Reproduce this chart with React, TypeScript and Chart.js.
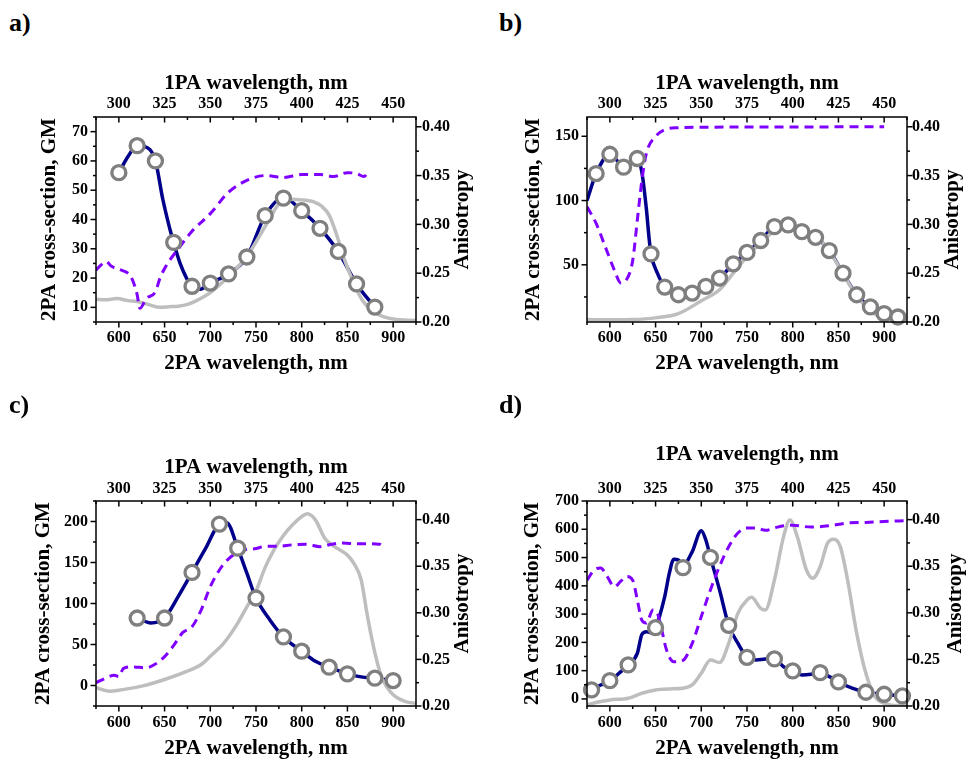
import React, { useEffect, useRef } from 'react';
import { Chart, registerables } from 'chart.js';

Chart.register(...registerables);

type Pt = [number, number];

// ---------- Data (x = 2PA wavelength, nm) ----------
// Panel a
const aCircles: Pt[] = [[600, 56], [620, 65.2], [640, 60], [660, 32.2], [680, 17.2], [700, 18.3], [720, 21.4], [740, 27.2], [760, 41.3], [780, 47.3], [800, 43], [820, 37], [840, 29.1], [860, 18], [880, 10.1]];
const aNavy: Pt[] = [[600, 56], [610, 61.5], [620, 65.3], [628, 65], [640, 60], [648, 47], [656, 36.5], [660, 32], [667, 25], [674, 20], [680, 17.2], [689, 16.2], [700, 18.3], [720, 21.4], [740, 27.2], [760, 41.3], [780, 47.5], [800, 43], [820, 37], [840, 29], [860, 18], [880, 10]];
const aAbs: Pt[] = [[575, 12.8], [585, 12.6], [598, 13], [610, 12.3], [620, 12], [632, 11], [645, 10], [655, 10.2], [665, 10.4], [675, 11], [685, 12.3], [700, 15], [720, 20.6], [740, 27.4], [760, 37.6], [775, 45.3], [785, 46.9], [800, 46.7], [815, 45.8], [822, 44.5], [830, 41.5], [838, 35], [846, 27], [856, 19], [866, 12.6], [880, 8.2], [900, 6], [925, 5.5]];
const aAniso: Pt[] = [[575, 0.253], [580, 0.258], [586, 0.262], [592, 0.257], [603, 0.253], [612, 0.248], [617, 0.238], [620, 0.228], [623, 0.214], [630, 0.224], [640, 0.231], [645, 0.245], [652, 0.258], [665, 0.275], [680, 0.293], [700, 0.311], [720, 0.333], [740, 0.345], [760, 0.35], [780, 0.348], [800, 0.351], [820, 0.351], [835, 0.349], [850, 0.353], [860, 0.352], [868, 0.349], [873, 0.354]];

// Panel b
const bCircles: Pt[] = [[585, 121], [600, 136], [615, 126], [630, 132.7], [645, 58.5], [660, 32.7], [675, 26.7], [690, 28], [705, 33.2], [720, 39.7], [735, 50.8], [750, 59.6], [765, 68.9], [780, 79.7], [795, 81], [810, 75.8], [825, 71.4], [840, 61.1], [855, 43.5], [870, 26.7], [885, 17.2], [900, 12], [915, 9.4]];
const bNavy: Pt[] = [[575, 100], [585, 121], [600, 136], [608, 131], [615, 126], [623, 129], [630, 133], [635, 122], [640, 93], [643, 70], [645, 58.5], [652, 43.5], [660, 32.7], [675, 26.7], [690, 28], [705, 33.2], [720, 39.7], [735, 50.8], [750, 59.6], [765, 68.9], [780, 79.7], [795, 81], [810, 75.8], [825, 71.4], [840, 61.1], [855, 43.5], [870, 26.7], [885, 17.2], [900, 12], [915, 9.4]];
const bAbs: Pt[] = [[575, 7.4], [600, 7.2], [625, 7.4], [650, 8.7], [675, 12], [700, 22], [720, 30.6], [735, 43.5], [750, 56.5], [765, 66.8], [780, 77], [790, 81.8], [800, 81], [815, 76.6], [830, 69.4], [840, 60.3], [855, 43.5], [870, 25.5], [885, 14.6], [900, 7.9], [915, 6.9], [925, 6.8]];
const bAniso: Pt[] = [[575, 0.318], [585, 0.301], [595, 0.277], [605, 0.253], [612, 0.24], [618, 0.243], [625, 0.263], [630, 0.304], [635, 0.345], [640, 0.373], [650, 0.39], [660, 0.397], [675, 0.399], [700, 0.3995], [750, 0.3997], [800, 0.3998], [850, 0.3999], [900, 0.4]];

// Panel c
const cCircles: Pt[] = [[620, 82.3], [650, 82.3], [680, 137.9], [710, 196.8], [730, 167.5], [750, 106.7], [780, 59.2], [800, 41.8], [830, 22.3], [850, 14.2], [880, 8.9], [900, 6]];
const cNavy: Pt[] = [[620, 82.3], [635, 76.3], [650, 82.3], [665, 108.7], [680, 137.9], [695, 167.5], [710, 196.8], [718, 198.5], [730, 167.5], [740, 137], [750, 106.7], [765, 80.3], [780, 59.2], [800, 41.8], [815, 29.6], [830, 22.3], [850, 14.2], [865, 10.5], [880, 8.9], [900, 6]];
const cAbs: Pt[] = [[575, -2.8], [590, -6.9], [600, -5.7], [625, -0.8], [650, 7.3], [675, 17.4], [690, 25.6], [700, 35.7], [715, 51.9], [730, 76], [740, 96], [750, 115], [760, 144], [770, 166], [780, 183], [790, 196], [800, 206], [806, 209.5], [815, 202], [825, 180], [835, 170], [850, 159], [857, 149], [865, 129], [872, 84], [880, 40], [887, 11.4], [898, -8.9], [912, -19], [925, -21.9]];
const cAniso: Pt[] = [[575, 0.225], [585, 0.2297], [595, 0.233], [600, 0.2315], [605, 0.2404], [615, 0.242], [630, 0.241], [640, 0.245], [650, 0.253], [660, 0.265], [670, 0.279], [680, 0.285], [690, 0.303], [700, 0.328], [710, 0.346], [720, 0.358], [735, 0.367], [750, 0.369], [760, 0.3714], [775, 0.3714], [790, 0.373], [805, 0.3736], [820, 0.371], [830, 0.373], [845, 0.375], [860, 0.374], [875, 0.374], [885, 0.3736], [890, 0.37]];

// Panel d
const dCircles: Pt[] = [[580, 31.8], [600, 64.8], [620, 120.2], [650, 252], [680, 464.3], [710, 500.8], [730, 260.4], [750, 147.3], [780, 141.4], [800, 99], [830, 93], [850, 60], [880, 23.6], [900, 16.5], [920, 10.6]];
const dNavy: Pt[] = [[580, 31.8], [590, 49.5], [600, 64.8], [610, 90.7], [620, 120.2], [630, 161], [635, 228], [640, 238], [645, 234], [650, 252], [660, 362], [665, 444], [670, 494], [675, 491], [680, 472], [690, 520], [700, 595], [705, 562], [710, 500.8], [720, 385], [730, 260.4], [740, 197], [750, 147.3], [760, 138], [770, 141], [780, 141.4], [790, 114], [800, 99], [810, 85], [820, 87], [830, 93], [840, 79], [850, 60], [865, 38], [880, 23.6], [900, 16.5], [920, 10.6]];
const dAbs: Pt[] = [[575, -21], [590, -9.3], [600, -3.5], [620, 2.4], [635, 20], [650, 31.8], [665, 35.3], [680, 37.7], [690, 49.5], [700, 90.7], [710, 137.9], [720, 128.5], [730, 196.8], [740, 302.8], [750, 350], [755, 359.4], [765, 320.5], [770, 314.6], [780, 420.7], [790, 574], [797, 632.8], [805, 574], [815, 456], [822, 426.6], [830, 467.8], [838, 550], [845, 564.5], [852, 538.6], [860, 420.7], [870, 232], [880, 90.7], [890, 8.2], [900, -15.3], [915, -23.6], [925, -24]];
const dAniso: Pt[] = [[575, 0.335], [583, 0.346], [590, 0.348], [597, 0.339], [605, 0.328], [612, 0.334], [618, 0.339], [625, 0.335], [630, 0.314], [635, 0.292], [640, 0.289], [647, 0.303], [652, 0.2995], [656, 0.285], [662, 0.26], [670, 0.2474], [680, 0.249], [690, 0.267], [700, 0.296], [710, 0.3246], [720, 0.35], [730, 0.371], [740, 0.3856], [750, 0.391], [760, 0.391], [770, 0.3885], [780, 0.391], [790, 0.3935], [800, 0.394], [820, 0.392], [840, 0.3935], [860, 0.3964], [880, 0.397], [900, 0.398], [925, 0.399]];

// Axis ranges / ticks
const X_RANGE = [575, 925];
const X_TOP_RANGE = [287.5, 462.5];
const aGM = { min: 5, max: 75, minor: 5, major: 10 };
const bGM = { min: 5.5, max: 165, minor: 25, major: 50 };
const cGM = { min: -25, max: 225, minor: 25, major: 50 };
const dGM = { min: -25, max: 700, minor: 50, major: 100 };
const abAniso = { min: 0.2, max: 0.41 };
const cdAniso = { min: 0.2, max: 0.42 };

const LABEL_X_BOTTOM = '2PA wavelength, nm';
const LABEL_X_TOP = '1PA wavelength, nm';
const LABEL_Y_LEFT = '2PA cross-section, GM';
const LABEL_Y_RIGHT = 'Anisotropy';

// ---------- Styling ----------
const FONT = "'Liberation Serif', 'Times New Roman', Times, serif";
const NAVY = '#00008B';
const GRAY_ABS = '#BEBEBE';
const CIRCLE = '#7F7F7F';
const PURPLE = '#8000FF';

const isMult = (v: number, s: number) => Math.abs(v / s - Math.round(v / s)) < 1e-6;

const tickPlugin = {
  id: 'frameTicks',
  afterDraw(chart: any, _args: any, opts: any) {
    const { ctx, chartArea: a } = chart;
    ctx.save();
    ctx.strokeStyle = '#000';
    ctx.lineWidth = 1.5;
    ctx.strokeRect(a.left, a.top, a.right - a.left, a.bottom - a.top);
    const draw = (id: string, side: string) => {
      const s = chart.scales[id];
      s.ticks.forEach((t: any) => {
        const p = s.getPixelForValue(t.value);
        const len = t.label !== '' ? 5.5 : 3;
        ctx.beginPath();
        if (side === 'bottom') { ctx.moveTo(p, a.bottom); ctx.lineTo(p, a.bottom + len); }
        else if (side === 'top') { ctx.moveTo(p, a.top); ctx.lineTo(p, a.top + len); }
        else if (side === 'left') { ctx.moveTo(a.left, p); ctx.lineTo(a.left - len, p); }
        else { ctx.moveTo(a.right, p); ctx.lineTo(a.right + len, p); }
        ctx.stroke();
      });
    };
    draw('x', 'bottom');
    draw('x2', 'top');
    draw('y', 'left');
    draw('y2', 'right');
    ctx.fillStyle = '#000';
    ctx.font = `bold 21px ${FONT}`;
    ctx.textAlign = 'center';
    ctx.textBaseline = 'middle';
    ctx.translate(opts.rightTitleX, (a.top + a.bottom) / 2);
    ctx.rotate(-Math.PI / 2);
    ctx.fillText(LABEL_Y_RIGHT, 0, 0);
    ctx.restore();
  },
};

interface PanelCfg {
  label: string;
  left: number; top: number; width: number; height: number;
  leftW: number; rightW: number; topH: number; bottomH: number;
  gm: { min: number; max: number; minor: number; major: number };
  an: { min: number; max: number };
  circles: Pt[]; navy: Pt[]; abs: Pt[]; aniso: Pt[];
  leftTitlePad: number; topTitlePad: number; bottomTitlePad: number; rightTitleX: number;
  leftLabelPad: number; rightLabelPad: number; topLabelPad: number; bottomLabelPad: number;
  labelLeft: number; labelTop: number;
}

const panels: PanelCfg[] = [
  { label: 'a)', left: 0, top: 40, width: 484, height: 340, leftW: 96, rightW: 68, topH: 77, bottomH: 58, gm: aGM, an: abAniso, circles: aCircles, navy: aNavy, abs: aAbs, aniso: aAniso, leftTitlePad: 39.5, topTitlePad: 32.8, bottomTitlePad: 5.5, rightTitleX: 462.5, leftLabelPad: 8, rightLabelPad: 6, topLabelPad: 3.5, bottomLabelPad: 6, labelLeft: 9, labelTop: 10 },
  { label: 'b)', left: 484, top: 40, width: 484, height: 340, leftW: 103, rightW: 61, topH: 77, bottomH: 58, gm: bGM, an: abAniso, circles: bCircles, navy: bNavy, abs: bAbs, aniso: bAniso, leftTitlePad: 39, topTitlePad: 32.8, bottomTitlePad: 5.5, rightTitleX: 469, leftLabelPad: 8, rightLabelPad: 5, topLabelPad: 3.5, bottomLabelPad: 6, labelLeft: 499, labelTop: 10 },
  { label: 'c)', left: 0, top: 415, width: 484, height: 345, leftW: 96, rightW: 68, topH: 86, bottomH: 54, gm: cGM, an: cdAniso, circles: cCircles, navy: cNavy, abs: cAbs, aniso: cAniso, leftTitlePad: 32.8, topTitlePad: 42.3, bottomTitlePad: 1.2, rightTitleX: 463, leftLabelPad: 8, rightLabelPad: 6, topLabelPad: 3, bottomLabelPad: 7, labelLeft: 9, labelTop: 392 },
  { label: 'd)', left: 484, top: 415, width: 484, height: 345, leftW: 103, rightW: 61, topH: 86, bottomH: 54, gm: dGM, an: cdAniso, circles: dCircles, navy: dNavy, abs: dAbs, aniso: dAniso, leftTitlePad: 37.8, topTitlePad: 29, bottomTitlePad: 1.2, rightTitleX: 472, leftLabelPad: 8, rightLabelPad: 5, topLabelPad: 3, bottomLabelPad: 7, labelLeft: 499, labelTop: 392 },
];

const toXY = (p: Pt[]) => p.map(([x, y]) => ({ x, y }));

const tickFont = { family: FONT, size: 16, weight: 'bold' as const };
const titleFont = { family: FONT, size: 21, weight: 'bold' as const, lineHeight: 1 };

function Panel({ cfg }: { cfg: PanelCfg }) {
  const ref = useRef<HTMLCanvasElement | null>(null);
  useEffect(() => {
    if (!ref.current) return;
    const chart = new Chart(ref.current, {
      type: 'line',
      data: {
        datasets: [
          {
            data: toXY(cfg.circles), showLine: false, pointRadius: 7, pointBorderWidth: 3.3,
            pointBorderColor: CIRCLE, pointBackgroundColor: '#FFFFFF', borderColor: CIRCLE,
            xAxisID: 'x', yAxisID: 'y', clip: false as any,
          },
          {
            data: toXY(cfg.aniso), borderColor: PURPLE, borderWidth: 3, borderDash: [9, 6],
            pointRadius: 0, cubicInterpolationMode: 'monotone', xAxisID: 'x', yAxisID: 'y2',
          },
          {
            data: toXY(cfg.abs), borderColor: GRAY_ABS, borderWidth: 3.5,
            pointRadius: 0, cubicInterpolationMode: 'monotone', xAxisID: 'x', yAxisID: 'y',
          },
          {
            data: toXY(cfg.navy), borderColor: NAVY, borderWidth: 3.5,
            pointRadius: 0, cubicInterpolationMode: 'monotone', xAxisID: 'x', yAxisID: 'y',
          },
        ],
      },
      options: {
        responsive: false,
        maintainAspectRatio: false,
        animation: false,
        events: [],
        layout: { padding: 0 },
        plugins: {
          legend: { display: false },
          tooltip: { enabled: false },
          frameTicks: { rightTitleX: cfg.rightTitleX },
        } as any,
        scales: {
          x: {
            type: 'linear', position: 'bottom', min: X_RANGE[0], max: X_RANGE[1],
            grid: { display: false, drawTicks: false }, border: { display: false },
            ticks: {
              stepSize: 25, autoSkip: false, maxRotation: 0, includeBounds: false, padding: cfg.bottomLabelPad,
              font: tickFont, color: '#000', callback: (v: any) => (isMult(v, 50) ? String(v) : ''),
            },
            title: { display: true, text: LABEL_X_BOTTOM, font: titleFont, color: '#000', padding: { top: 0, bottom: cfg.bottomTitlePad } },
            afterFit: (s: any) => { s.height = cfg.bottomH; },
          },
          x2: {
            type: 'linear', position: 'top', display: true, min: X_TOP_RANGE[0], max: X_TOP_RANGE[1],
            grid: { display: false, drawTicks: false }, border: { display: false },
            ticks: {
              stepSize: 12.5, autoSkip: false, maxRotation: 0, includeBounds: false, padding: cfg.topLabelPad,
              font: tickFont, color: '#000', callback: (v: any) => (isMult(v, 25) ? String(v) : ''),
            },
            title: { display: true, text: LABEL_X_TOP, font: titleFont, color: '#000', padding: { top: cfg.topTitlePad, bottom: 0 } },
            afterFit: (s: any) => { s.height = cfg.topH; },
          },
          y: {
            type: 'linear', position: 'left', min: cfg.gm.min, max: cfg.gm.max,
            grid: { display: false, drawTicks: false }, border: { display: false },
            ticks: {
              stepSize: cfg.gm.minor, autoSkip: false, includeBounds: false, padding: cfg.leftLabelPad,
              font: tickFont, color: '#000', callback: (v: any) => (isMult(v, cfg.gm.major) ? String(Math.round(v)) : ''),
            },
            title: { display: true, text: LABEL_Y_LEFT, font: titleFont, color: '#000', padding: { top: cfg.leftTitlePad, bottom: 0 } },
            afterFit: (s: any) => { s.width = cfg.leftW; },
          },
          y2: {
            type: 'linear', position: 'right', min: cfg.an.min, max: cfg.an.max,
            grid: { display: false, drawTicks: false }, border: { display: false },
            ticks: {
              stepSize: 0.025, autoSkip: false, includeBounds: false, padding: cfg.rightLabelPad,
              font: tickFont, color: '#000', callback: (v: any) => (isMult(v, 0.05) ? Number(v).toFixed(2) : ''),
            },
            title: { display: false },
            afterFit: (s: any) => { s.width = cfg.rightW; },
          },
        },
      } as any,
      plugins: [tickPlugin as any],
    });
    return () => chart.destroy();
  }, [cfg]);
  return (
    <>
      <canvas
        ref={ref}
        width={cfg.width}
        height={cfg.height}
        style={{ position: 'absolute', left: cfg.left, top: cfg.top, width: cfg.width, height: cfg.height, display: 'block' }}
      />
      <div
        style={{
          position: 'absolute', left: cfg.labelLeft, top: cfg.labelTop, fontFamily: FONT,
          fontWeight: 'bold', fontSize: 26, lineHeight: 1, color: '#000',
        }}
      >
        {cfg.label}
      </div>
    </>
  );
}

export default function App() {
  return (
    <div style={{ position: 'absolute', left: 0, top: 0, width: 968, height: 760, background: '#fff', overflow: 'hidden' }}>
      {panels.map((p) => (
        <Panel key={p.label} cfg={p} />
      ))}
    </div>
  );
}
